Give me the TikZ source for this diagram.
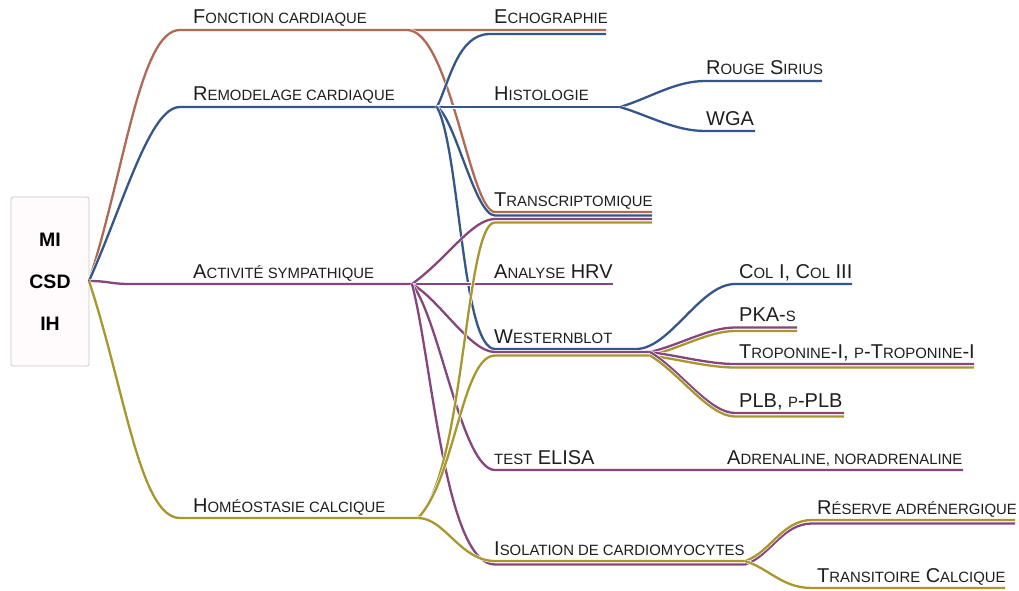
\documentclass[tikz,border=0pt]{standalone}
\usepackage{fontspec}
\setmainfont{Liberation Sans}
\usetikzlibrary{calc}
\definecolor{cBrown}{RGB}{176,106,84}
\definecolor{cBlue}{RGB}{52,86,138}
\definecolor{cPurple}{RGB}{134,69,124}
\definecolor{cOlive}{RGB}{168,150,46}
\definecolor{textc}{RGB}{30,30,30}
\definecolor{rootfill}{RGB}{255,251,252}
\newcommand\smc[1]{{\fontsize{14.9}{16}\selectfont #1}}
\tikzset{
  ln/.style={line width=2.3pt, preaction={draw=white, line width=3.5pt}},
  brn/.style={ln, draw=cBrown},
  blu/.style={ln, draw=cBlue},
  pur/.style={ln, draw=cPurple},
  oli/.style={ln, draw=cOlive},
  tx/.style={anchor=base west, inner sep=0pt, text=textc, font=\fontsize{20}{22}\selectfont},
  rootbox/.style={draw=black!22, fill=rootfill, line width=0.8pt, rounded corners=1.5pt,
    minimum width=78pt, minimum height=169pt, inner sep=0pt, align=center, text=black,
    font=\bfseries\fontsize{19.5}{42}\selectfont}
}
\begin{document}
\begin{tikzpicture}[x=1pt,y=-1pt]
\useasboundingbox (0,0) rectangle (1019,591);
% root
\node[rootbox] (root) at (50,281.5) {MI\\CSD\\IH};
\coordinate (R) at (89,281);
% level 1 points
\coordinate (fc1) at (180,30);   \coordinate (fch) at (407,30);
\coordinate (rc1) at (180,107);  \coordinate (rch) at (437,107);
\coordinate (as1) at (130,284);  \coordinate (ash) at (412,284);
\coordinate (hc1) at (180,518);  \coordinate (hch) at (418,518);
% level 2 points
\coordinate (ecoA) at (606,30);
\coordinate (ecoB0) at (490,34); \coordinate (ecoB) at (606,34);
\coordinate (hih) at (620,107);
\coordinate (trA0) at (495,212);   \coordinate (trA) at (652,212);
\coordinate (trB0) at (495,215.5); \coordinate (trB) at (652,215.5);
\coordinate (trC0) at (495,219);   \coordinate (trC) at (652,219);
\coordinate (trD0) at (495,222.5); \coordinate (trD) at (652,222.5);
\coordinate (hrv) at (613,284);
\coordinate (wbB0) at (495,349);   \coordinate (wbB) at (636,349);
\coordinate (wbC0) at (495,352);   \coordinate (wbC) at (650,352);
\coordinate (wbD0) at (495,355.5); \coordinate (wbD) at (650,355.5);
\coordinate (el0) at (495,470);    \coordinate (el) at (963,470);
\coordinate (isD0) at (495,561);   \coordinate (isD) at (745,561);
\coordinate (isC0) at (495,564.5); \coordinate (isC) at (745,564.5);
% level 3 points
\coordinate (rs0) at (705,81);  \coordinate (rs) at (822,81);
\coordinate (wg0) at (705,131); \coordinate (wg) at (755,131);
\coordinate (col0) at (735,284); \coordinate (col) at (852,284);
\coordinate (pkC0) at (735,327.5); \coordinate (pkC) at (797,327.5);
\coordinate (pkD0) at (735,331);   \coordinate (pkD) at (797,331);
\coordinate (tpC0) at (735,364);   \coordinate (tpC) at (974,364);
\coordinate (tpD0) at (735,367.5); \coordinate (tpD) at (974,367.5);
\coordinate (plC0) at (735,413);   \coordinate (plC) at (844,413);
\coordinate (plD0) at (735,416.5); \coordinate (plD) at (844,416.5);
\coordinate (reD0) at (812,520);   \coordinate (reD) at (1015,520);
\coordinate (reC0) at (812,523.5); \coordinate (reC) at (1015,523.5);
\coordinate (tcD0) at (812,588);   \coordinate (tcD) at (1005,588);

% ---- root branches
\draw[brn] (R) .. controls +(36,-111) and +(-40,0) .. (fc1) -- (fch) -- (ecoA);
\draw[blu] (R) .. controls +(36,-81) and +(-30,0) .. (rc1) -- (rch);
\draw[pur] (R) .. controls +(20,0) and +(-20,0) .. (as1) -- (ash);
\draw[oli] (R) .. controls +(36,109) and +(-40,0) .. (hc1) -- (hch);

% ---- Fonction cardiaque
\draw[brn] (fch) .. controls +(43,0) and +(-25,0) .. (trA0) -- (trA);
% ---- Remodelage cardiaque
\draw[blu] (rch) .. controls +(13,-27) and +(-32,0) .. (ecoB0) -- (ecoB);
\draw[blu] (rch) -- (hih);
\draw[blu] (rch) .. controls +(18,11) and +(-20,0) .. (trB0) -- (trB);
\draw[blu] (rch) .. controls +(23,43) and +(-33,0) .. (wbB0) -- (wbB);
\draw[blu] (hih) .. controls +(30,-9) and +(-30,0) .. (rs0) -- (rs);
\draw[blu] (hih) .. controls +(30,9) and +(-30,0) .. (wg0) -- (wg);
\draw[blu] (wbB) .. controls +(34,0) and +(-35,0) .. (col0) -- (col);
% ---- Activite sympathique
\draw[pur] (ash) -- (hrv);
\draw[pur] (ash) .. controls +(36,-26) and +(-23,0) .. (trC0) -- (trC);
\draw[pur] (ash) .. controls +(28,16) and +(-25,0) .. (wbC0) -- (wbC);
\draw[pur] (ash) .. controls +(28,36) and +(-33,0) .. (el0) -- (el);
\draw[pur] (ash) .. controls +(20,76) and +(-50,0) .. (isC0) -- (isC);
% ---- Homeostasie calcique
\draw[oli] (hch) .. controls +(47,-47) and +(-30,0) .. (trD0) -- (trD);
\draw[oli] (hch) .. controls +(37,-38) and +(-33,0) .. (wbD0) -- (wbD);
\draw[oli] (hch) .. controls +(27,0) and +(-35,0) .. (isD0) -- (isD);
% ---- Westernblot children
\draw[pur] (wbC) .. controls +(30,-7) and +(-26,0) .. (pkC0) -- (pkC);
\draw[oli] (wbD) .. controls +(30,-7) and +(-26,0) .. (pkD0) -- (pkD);
\draw[pur] (wbC) .. controls +(30,4) and +(-26,0) .. (tpC0) -- (tpC);
\draw[oli] (wbD) .. controls +(30,4) and +(-26,0) .. (tpD0) -- (tpD);
\draw[pur] (wbC) .. controls +(30,18) and +(-26,0) .. (plC0) -- (plC);
\draw[oli] (wbD) .. controls +(30,18) and +(-26,0) .. (plD0) -- (plD);
% ---- Isolation children
\draw[pur] (isC) .. controls +(25,-8) and +(-30,0) .. (reC0) -- (reC);
\draw[oli] (isD) .. controls +(25,-8) and +(-30,0) .. (reD0) -- (reD);
\draw[oli] (isD) .. controls +(25,8) and +(-30,0) .. (tcD0) -- (tcD);

% ---- labels
\node[tx] (tFC) at (193,24) {F\smc{ONCTION CARDIAQUE}};
\node[tx] (tRC) at (193,101) {R\smc{EMODELAGE CARDIAQUE}};
\node[tx] (tAS) at (193,278) {A\smc{CTIVITÉ SYMPATHIQUE}};
\node[tx] (tHC) at (193,512) {H\smc{OMÉOSTASIE CALCIQUE}};
\node[tx] (tEC) at (494,24) {E\smc{CHOGRAPHIE}};
\node[tx] (tHI) at (494,101) {H\smc{ISTOLOGIE}};
\node[tx] (tTR) at (494,206) {T\smc{RANSCRIPTOMIQUE}};
\node[tx] (tHR) at (494,278) {A\smc{NALYSE} HRV};
\node[tx] (tWB) at (494,343) {W\smc{ESTERNBLOT}};
\node[tx] (tEL) at (494,464) {\smc{TEST} ELISA};
\node[tx] (tIS) at (494,555) {I\smc{SOLATION DE CARDIOMYOCYTES}};
\node[tx] (tRS) at (706,75) {R\smc{OUGE} S\smc{IRIUS}};
\node[tx] (tWG) at (706,125) {WGA};
\node[tx] (tCO) at (739,278) {C\smc{OL} I, C\smc{OL} III};
\node[tx] (tPK) at (739,321) {PKA-\smc{S}};
\node[tx] (tTP) at (739,358) {T\smc{ROPONINE}-I, \smc{P}-T\smc{ROPONINE}-I};
\node[tx] (tPL) at (739,407) {PLB, \smc{P}-PLB};
\node[tx] (tAD) at (727,464) {A\smc{DRENALINE, NORADRENALINE}};
\node[tx] (tRE) at (817,514) {R\smc{ÉSERVE ADRÉNERGIQUE}};
\node[tx] (tTC) at (817,582) {T\smc{RANSITOIRE} C\smc{ALCIQUE}};
\end{tikzpicture}
\end{document}
